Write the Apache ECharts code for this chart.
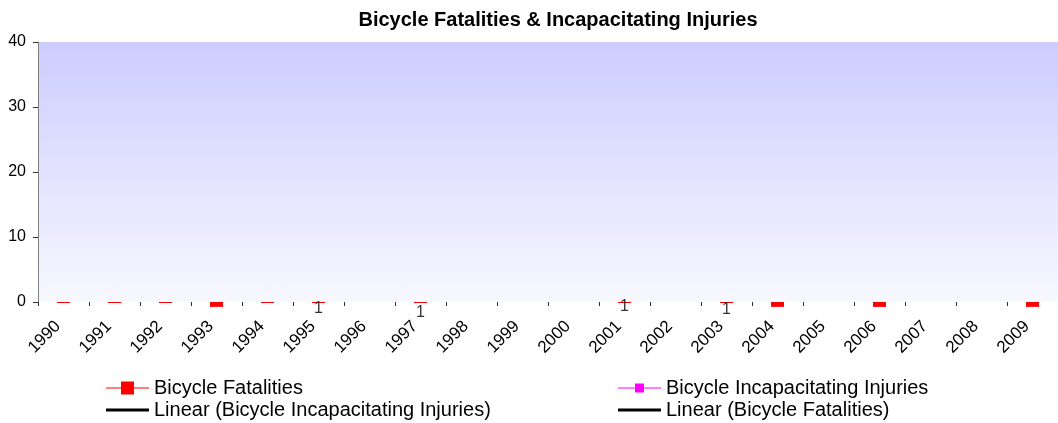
<!DOCTYPE html>
<html>
<head>
<meta charset="utf-8">
<script src="https://cdn.jsdelivr.net/npm/echarts@6/dist/echarts.min.js"></script>
<style>
  html, body { margin: 0; padding: 0; background: #fff; }
  #chartContainer { width: 1058px; height: 423px; }
</style>
</head>
<body>
<div id="chartContainer"></div>
<script>
var years = ['1990', '1991', '1992', '1993', '1994', '1995', '1996', '1997', '1998', '1999',
             '2000', '2001', '2002', '2003', '2004', '2005', '2006', '2007', '2008', '2009'];

// fatality marks as they sit on the zero line (small values below the axis)
var fatalities = [-0.15, -0.15, -0.15, -0.75, -0.15, -0.15, null, -0.15, null, null,
                  null, -0.15, null, -0.15, -0.75, null, -0.75, null, null, -0.75];

// nothing of this series is visible in the picture
var injuries = [null, null, null, null, null, null, null, null, null, null,
                null, null, null, null, null, null, null, null, null, null];

// the "1" data labels under the axis
var labelYears = ['1995', '1997', '2001', '2003'];
var labelValues = [-1.0, -1.6, -0.7, -1.15];
var labelTexts = ['1', '1', '1', '1'];

var yTicks = { min: 0, max: 40, interval: 10 };

var font = 'Liberation Sans, Arial, sans-serif';

function drawChart() {
  var chart = echarts.init(document.getElementById('chartContainer'));

  var labelData = labelYears.map(function (y, i) {
    return { value: [y, labelValues[i]], name: labelTexts[i] };
  });

  var legendCommon = {
    orient: 'vertical',
    top: 378,
    height: 45,
    padding: 0,
    itemWidth: 43,
    itemHeight: 14,
    itemGap: 2,
    textStyle: { fontSize: 20, color: '#000', fontFamily: font }
  };

  chart.setOption({
    animation: false,
    textStyle: { fontFamily: font },
    title: {
      text: 'Bicycle Fatalities & Incapacitating Injuries',
      left: 553,
      top: 5,
      textAlign: 'center',
      textStyle: { fontSize: 20, fontWeight: 'bold', color: '#000', fontFamily: font }
    },
    legend: [
      echarts.util.merge({
        left: 106,
        data: [
          { name: 'Bicycle Fatalities', icon: 'path://M0,6H15V0H28V6H43V7H28V13H15V7H0Z' },
          { name: 'Linear (Bicycle Incapacitating Injuries)', icon: 'path://M0,0H43V3H0Z' }
        ]
      }, legendCommon),
      echarts.util.merge({
        left: 618,
        data: [
          { name: 'Bicycle Incapacitating Injuries', icon: 'path://M0,4H17V0H26V4H43V5H26V9H17V5H0Z' },
          { name: 'Linear (Bicycle Fatalities)', icon: 'path://M0,0H43V3H0Z' }
        ]
      }, legendCommon)
    ],
    grid: {
      left: 38,
      top: 42,
      right: -2,
      bottom: 121,
      show: true,
      borderWidth: 0,
      backgroundColor: new echarts.graphic.LinearGradient(0, 0, 0, 1, [
        { offset: 0, color: '#ccccff' },
        { offset: 1, color: '#f8f8ff' }
      ])
    },
    xAxis: {
      type: 'category',
      data: years,
      boundaryGap: true,
      axisLine: { show: false },
      axisTick: { show: true, length: 4, lineStyle: { color: '#333' } },
      axisLabel: {
        rotate: 45, margin: 16, padding: [0, 8, 0, 0],
        fontSize: 17, color: '#000', fontFamily: font, interval: 0
      }
    },
    yAxis: {
      type: 'value',
      min: yTicks.min,
      max: yTicks.max,
      interval: yTicks.interval,
      splitLine: { show: false },
      axisLine: { show: true, lineStyle: { color: '#808080' } },
      axisTick: { show: true, length: 5, lineStyle: { color: '#333' } },
      axisLabel: { fontSize: 16, color: '#000', margin: 12, fontFamily: font }
    },
    series: [{
      name: 'Bicycle Fatalities',
      type: 'bar',
      data: fatalities,
      barWidth: 13,
      clip: false,
      itemStyle: { color: '#ff0000' }
    }, {
      name: 'Bicycle Incapacitating Injuries',
      type: 'line',
      data: injuries,
      symbol: 'rect',
      itemStyle: { color: '#ff00ff' },
      lineStyle: { color: '#ff00ff', width: 1 }
    }, {
      name: 'Linear (Bicycle Incapacitating Injuries)',
      type: 'line',
      data: [],
      showSymbol: false,
      itemStyle: { color: '#000' },
      lineStyle: { color: '#000', width: 3 }
    }, {
      name: 'Linear (Bicycle Fatalities)',
      type: 'line',
      data: [],
      showSymbol: false,
      itemStyle: { color: '#000' },
      lineStyle: { color: '#000', width: 3 }
    }, {
      name: 'labels',
      type: 'scatter',
      data: labelData,
      symbolSize: 0,
      clip: false,
      silent: true,
      z: 5,
      label: {
        show: true,
        position: 'inside',
        formatter: '{b}',
        fontSize: 16,
        color: '#000',
        fontFamily: font
      }
    }]
  });

  window.addEventListener('resize', function () {
    chart.resize();
  });
}

drawChart();
</script>
</body>
</html>
